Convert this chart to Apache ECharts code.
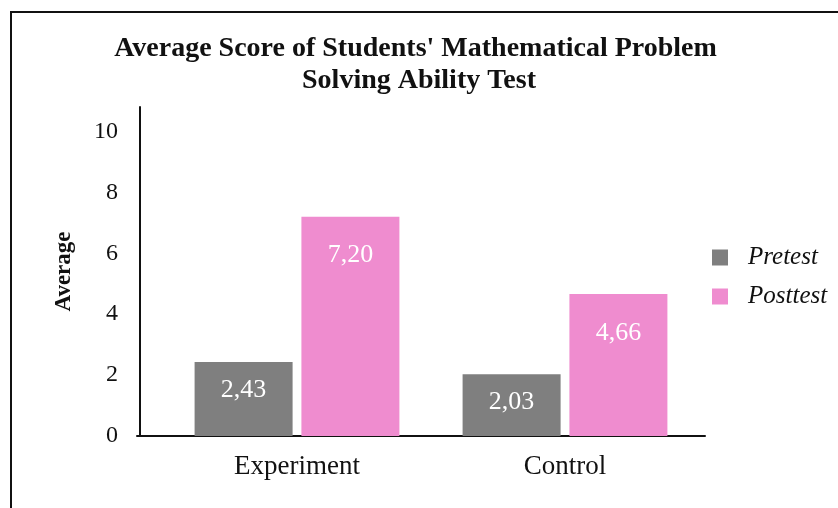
<!DOCTYPE html>
<html>
<head>
    <meta charset="utf-8" />
    <title>Average Score</title>
    <script src="https://cdn.jsdelivr.net/npm/echarts@6/dist/echarts.min.js"></script>
    <style>
        html, body { margin: 0; padding: 0; background: #fff; }
        #main { width: 838px; height: 508px; }
    </style>
</head>
<body>
    <div id="main"></div>
<script type="text/javascript">
    // data
    var groups = ['Experiment', 'Control'];
    var pretest = [2.43, 2.03];
    var posttest = [7.20, 4.66];
    var seriesNames = ['Pretest', 'Posttest'];

    var serif = '"Liberation Serif", "Times New Roman", serif';

    var myChart = echarts.init(document.getElementById('main'));

    function valueLabel(p) {
        return p.value.toFixed(2).replace('.', ',');
    }

    var option = {
        backgroundColor: '#fff',
        animation: false,
        title: {
            text: "Average Score of Students' Mathematical Problem \nSolving Ability Test",
            left: 'center',
            top: 28,
            textStyle: {
                fontFamily: serif,
                fontWeight: 'bold',
                fontSize: 28,
                lineHeight: 32,
                color: '#111'
            }
        },
        legend: {
            orient: 'vertical',
            left: 707,
            top: 240,
            itemWidth: 16,
            itemHeight: 16,
            itemGap: 14,
            icon: 'rect',
            data: seriesNames,
            textStyle: {
                fontFamily: serif,
                fontStyle: 'italic',
                fontSize: 25,
                color: '#111',
                padding: [0, 0, 0, 15]
            }
        },
        grid: [
            { left: 163, right: 139, top: 107, bottom: 72 },
            { left: 137, right: 133, top: 107, bottom: 72 }
        ],
        xAxis: [
            {
                type: 'category',
                gridIndex: 0,
                data: groups,
                axisLine: { show: false },
                axisTick: { show: false },
                axisLabel: {
                    fontFamily: serif,
                    fontSize: 27,
                    color: '#111',
                    margin: 17
                }
            },
            {
                type: 'value',
                gridIndex: 1,
                min: 0,
                max: 1,
                axisLine: { show: true, onZero: false, lineStyle: { color: '#111', width: 2 } },
                axisTick: { show: false },
                axisLabel: { show: false },
                splitLine: { show: false }
            }
        ],
        yAxis: [
            {
                type: 'value',
                gridIndex: 0,
                min: 0,
                max: 10.8,
                interval: 2,
                offset: 23,
                name: 'Average',
                nameLocation: 'middle',
                nameRotate: 90,
                nameGap: 64,
                nameTextStyle: {
                    fontFamily: serif,
                    fontWeight: 'bold',
                    fontSize: 23,
                    color: '#111'
                },
                axisLine: { show: true, lineStyle: { color: '#111', width: 2 } },
                axisTick: { show: false },
                splitLine: { show: false },
                axisLabel: {
                    showMaxLabel: false,
                    fontFamily: serif,
                    fontSize: 24,
                    color: '#111',
                    margin: 22
                }
            },
            {
                type: 'value',
                gridIndex: 1,
                show: false,
                min: 0,
                max: 1
            }
        ],
        series: [
            {
                name: seriesNames[0],
                type: 'bar',
                data: pretest,
                barWidth: 98,
                barGap: '9%',
                itemStyle: { color: '#7f7f7f' },
                label: {
                    show: true,
                    position: 'insideTop',
                    distance: 15,
                    formatter: valueLabel,
                    fontFamily: serif,
                    fontSize: 26,
                    color: '#fff'
                }
            },
            {
                name: seriesNames[1],
                type: 'bar',
                data: posttest,
                barWidth: 98,
                itemStyle: { color: '#ef8ccf' },
                label: {
                    show: true,
                    position: 'insideTop',
                    distance: 26,
                    formatter: valueLabel,
                    fontFamily: serif,
                    fontSize: 26,
                    color: '#fff'
                }
            }
        ],
        graphic: [
            {
                type: 'polyline',
                shape: { points: [[11, 508], [11, 12], [838, 12]] },
                style: { stroke: '#111', lineWidth: 2, fill: null }
            }
        ]
    };

    myChart.setOption(option);
</script>
</body>
</html>
